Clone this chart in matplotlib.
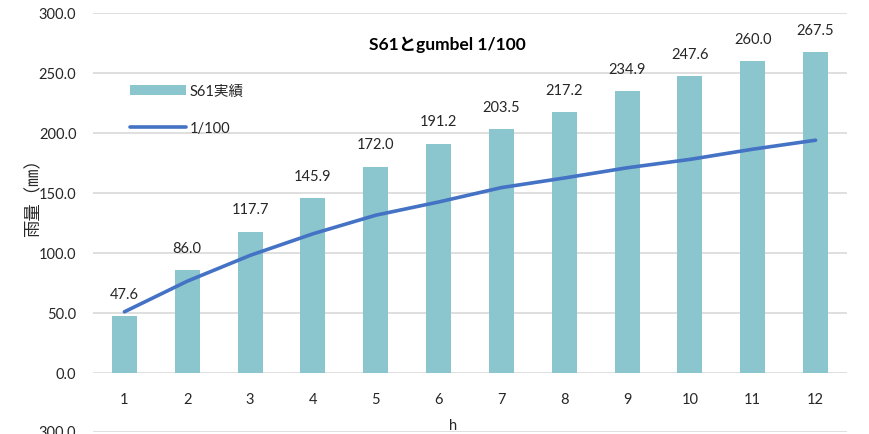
import matplotlib.pyplot as plt
import numpy as np

plt.rcParams['font.family'] = ['Lato', 'Noto Sans CJK JP', 'DejaVu Sans']

hours = [1, 2, 3, 4, 5, 6, 7, 8, 9, 10, 11, 12]
s61 = [47.6, 86.0, 117.7, 145.9, 172.0, 191.2, 203.5, 217.2, 234.9, 247.6, 260.0, 267.5]
gumbel_100 = [51.0, 76.5, 98.0, 116.0, 131.5, 142.5, 154.5, 162.5, 171.0, 178.0, 186.5, 194.0]
yticks = [0, 50, 100, 150, 200, 250, 300]

bar_color = '#8BC6CE'
line_color = '#4472C4'
grid_color = '#D9D9D9'
text_color = '#262626'

fig = plt.figure(figsize=(8.7, 4.35), dpi=100)
ax = fig.add_axes([93 / 870, 1 - 374 / 435, 754 / 870, 360 / 435])

x = np.arange(len(hours))
bars = ax.bar(x, s61, width=0.4, color=bar_color, label='S61実績', zorder=2)
line, = ax.plot(x, gumbel_100, color=line_color, lw=2.6, solid_capstyle='round',
                label='1/100', zorder=3)

for xi, v in zip(x, s61):
    ax.annotate(f'{v:.1f}', (xi, v), xytext=(0, 11), textcoords='offset points',
                ha='center', va='bottom', fontsize=10.5, color=text_color)

ax.set_xlim(-0.5, len(hours) - 0.5)
ax.set_ylim(0, 300)
ax.set_yticks(yticks)
ax.set_yticklabels([f'{t:.1f}' for t in yticks])
ax.set_xticks(x)
ax.set_xticklabels([str(h) for h in hours])
ax.tick_params(axis='both', length=0, labelsize=10.5, colors=text_color)
ax.tick_params(axis='y', pad=12)
ax.tick_params(axis='x', pad=14)
ax.grid(axis='y', color=grid_color, lw=1.2, zorder=0)
ax.set_axisbelow(True)
for s in ax.spines.values():
    s.set_visible(False)

ax.set_xlabel('h', fontsize=10.5, color=text_color)
ax.xaxis.set_label_coords(0.478, -0.125)
ax.set_ylabel('雨量（㎜）', fontsize=12.5, color=text_color)
ax.yaxis.set_label_coords(-0.068, 0.5)

ax.text(0.47, 0.915, 'S61とgumbel 1/100', transform=ax.transAxes, ha='center',
        va='center', fontsize=12.5, fontweight='bold', color='black')

ax.legend([bars, line], ['S61実績', '1/100'], loc='upper left',
          bbox_to_anchor=(0.032, 0.84), frameon=False, fontsize=10.5,
          handlelength=3.8, labelspacing=1.6, handletextpad=0.3,
          labelcolor=text_color)

# top edge of the next chart below
ax2 = fig.add_axes([93 / 870, -0.5, 754 / 870, 0.5 + 3 / 435])
ax2.set_ylim(0, 300)
ax2.set_yticks(yticks)
ax2.set_yticklabels([f'{t:.1f}' for t in yticks])
ax2.set_xticks([])
ax2.tick_params(axis='y', length=0, labelsize=10.5, colors=text_color, pad=12)
ax2.grid(axis='y', color=grid_color, lw=1.2)
for s in ax2.spines.values():
    s.set_visible(False)

fig.savefig('out.png', dpi=100)
